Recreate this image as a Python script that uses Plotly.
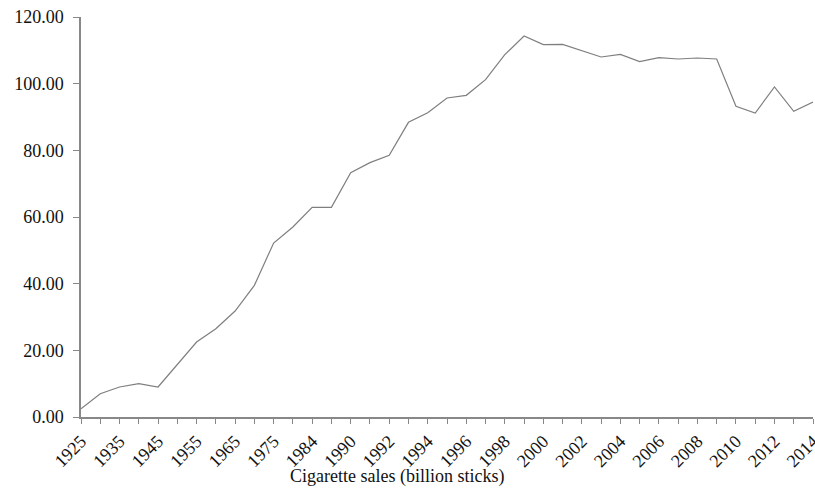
import plotly.graph_objects as go

years = ["1925", "1930", "1935", "1940", "1945", "1950", "1955", "1960", "1965", "1970",
         "1975", "1980", "1984", "1987", "1990", "1991", "1992", "1993", "1994", "1995",
         "1996", "1997", "1998", "1999", "2000", "2001", "2002", "2003", "2004", "2005",
         "2006", "2007", "2008", "2009", "2010", "2011", "2012", "2013", "2014"]
sales = [2.5, 7.0, 9.0, 10.0, 9.0, 15.8, 22.5, 26.5, 31.8, 39.5,
         52.2, 57.0, 62.9, 62.9, 73.3, 76.3, 78.5, 88.4, 91.3, 95.7,
         96.5, 101.2, 108.7, 114.3, 111.7, 111.8, 109.9, 108.0, 108.8, 106.6,
         107.8, 107.4, 107.7, 107.4, 93.2, 91.2, 99.0, 91.7, 94.5]
shown_labels = [y if i % 2 == 0 else "" for i, y in enumerate(years)]
y_ticks = [0, 20, 40, 60, 80, 100, 120]
x_title = "Cigarette sales (billion sticks)"

font_family = "Liberation Serif"

fig = go.Figure()
fig.add_trace(go.Scatter(
    x=years, y=sales, mode="lines",
    line=dict(color="#7f7f7f", width=1.2),
    showlegend=False,
))

fig.update_layout(
    width=815, height=496,
    margin=dict(l=81, r=2, t=17, b=79),
    paper_bgcolor="white", plot_bgcolor="white",
    font=dict(family=font_family, color="#111111", size=17),
    xaxis=dict(
        type="category",
        range=[0, len(years) - 1],
        automargin=False,
        tickmode="array", tickvals=years, ticktext=shown_labels,
        tickangle=-45,
        ticks="outside", ticklen=5, tickcolor="#888888", tickwidth=1,
        ticklabelstandoff=0,
        showline=True, linecolor="#888888", linewidth=1.5,
        showgrid=False, zeroline=False,
        tickfont=dict(family=font_family, size=18, color="#111111"),
    ),
    yaxis=dict(
        range=[0, 120],
        automargin=False,
        tickmode="array", tickvals=y_ticks,
        ticktext=[f"{v:.2f}" for v in y_ticks],
        ticks="outside", ticklen=6, tickcolor="#888888", tickwidth=1,
        ticklabelstandoff=6,
        showline=True, linecolor="#888888", linewidth=1.5,
        showgrid=False, zeroline=False,
        tickfont=dict(family=font_family, size=18, color="#111111"),
    ),
    annotations=[dict(
        text=x_title, x=(397 - 81) / 732, y=-59 / 400, xref="paper", yref="paper",
        xanchor="center", yanchor="middle", showarrow=False,
        font=dict(family=font_family, size=18, color="#111111"),
    )],
)

fig.write_html("out.html", config={"displayModeBar": False},
               post_script="document.body.style.margin='0';")
